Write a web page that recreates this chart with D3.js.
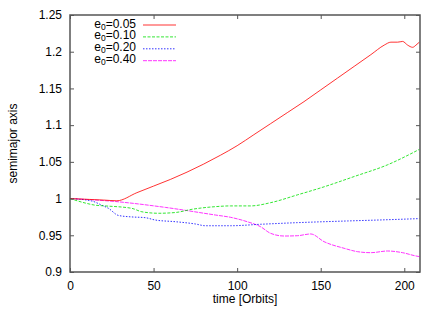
<!DOCTYPE html>
<html>
<head>
<meta charset="utf-8">
<script src="https://cdn.jsdelivr.net/npm/d3@7"></script>
<style>
  body { margin: 0; background: #fff; }
  svg { display: block; font-family: "Liberation Sans", Arial, sans-serif; }
</style>
</head>
<body>
<div id="chartContainer"></div>
<script>
// Data: time in orbits, semimajor axis.
const timeRed = [0, 10, 20, 28, 40, 50, 60, 70, 80, 90, 100, 110, 120, 130, 140, 150, 160, 170, 180, 188, 192, 196, 199, 202, 205, 207, 209];
const aRed = [1.0, 0.999, 0.998, 0.997, 1.008, 1.017, 1.026, 1.036, 1.047, 1.059, 1.072, 1.087, 1.102, 1.117, 1.132, 1.148, 1.164, 1.180, 1.196, 1.209, 1.213, 1.213, 1.214, 1.209, 1.206, 1.209, 1.213];

const timeGreen = [0, 9, 15, 21, 37, 43, 53, 63, 73, 87, 96, 108, 120, 136, 152, 170, 190, 209];
const aGreen = [1.0, 0.994, 0.991, 0.990, 0.9867, 0.982, 0.980, 0.981, 0.9854, 0.989, 0.990, 0.990, 0.9944, 1.005, 1.016, 1.030, 1.046, 1.067];

const timeBlue = [0, 13, 19, 23, 29, 37, 45, 51, 63, 75, 81, 96, 114, 136, 166, 186, 209];
const aBlue = [1.0, 0.9967, 0.991, 0.9867, 0.977, 0.975, 0.974, 0.9708, 0.9685, 0.9654, 0.963, 0.963, 0.965, 0.9672, 0.9695, 0.9709, 0.9727];

const timeMagenta = [0, 27, 57, 87, 96, 106, 114, 120, 128, 136, 144, 152, 164, 172, 180, 190, 199, 207, 209];
const aMagenta = [1.0, 0.996, 0.988, 0.9776, 0.9745, 0.9685, 0.9617, 0.9527, 0.949, 0.9494, 0.9518, 0.9413, 0.9323, 0.9277, 0.9263, 0.9286, 0.9263, 0.9218, 0.921];

const seriesNames = ["e0=0.05", "e0=0.10", "e0=0.20", "e0=0.40"];
const xTicks = [0, 50, 100, 150, 200];
const yTicks = [0.9, 0.95, 1, 1.05, 1.1, 1.15, 1.2, 1.25];

function createChart() {
    // Dimensions
    const width = 442, height = 309;
    const margin = {left: 70, right: 22, top: 15, bottom: 37};

    const x = d3.scaleLinear().domain([0, 209.4]).range([margin.left, width - margin.right]);
    const y = d3.scaleLinear().domain([0.9, 1.25]).range([height - margin.bottom, margin.top]);

    const svg = d3.create("svg")
        .attr("width", width)
        .attr("height", height)
        .attr("viewBox", `0 0 ${width} ${height}`);

    const series = [
        {name: seriesNames[0], t: timeRed, a: aRed, color: "#ff0000", dash: null},
        {name: seriesNames[1], t: timeGreen, a: aGreen, color: "#00e000", dash: "3,1.5"},
        {name: seriesNames[2], t: timeBlue, a: aBlue, color: "#0000ff", dash: "1.5,1.5"},
        {name: seriesNames[3], t: timeMagenta, a: aMagenta, color: "#ff00ff", dash: "4,1"}
    ];

    const line = d3.line()
        .x(d => x(d[0]))
        .y(d => y(d[1]))
        .curve(d3.curveMonotoneX);

    svg.append("defs").append("clipPath").attr("id", "clip")
        .append("rect")
        .attr("x", margin.left).attr("y", margin.top)
        .attr("width", width - margin.left - margin.right)
        .attr("height", height - margin.top - margin.bottom);

    // Curves
    svg.append("g")
        .attr("clip-path", "url(#clip)")
        .selectAll("path")
        .data(series.slice().reverse())
        .join("path")
        .attr("fill", "none")
        .attr("stroke", d => d.color)
        .attr("stroke-width", 1)
        .attr("stroke-opacity", 0.8)
        .attr("stroke-dasharray", d => d.dash)
        .attr("d", d => line(d.t.map((t, i) => [t, d.a[i]])));

    // Axes with inward ticks on all four sides
    const axisColor = "#555";
    const fmt = d => String(+d.toFixed(2));

    const left = svg.append("g")
        .attr("transform", `translate(${margin.left},0)`)
        .call(d3.axisLeft(y).tickValues(yTicks).tickSizeInner(-4).tickSizeOuter(0).tickPadding(8).tickFormat(fmt));
    const right = svg.append("g")
        .attr("transform", `translate(${width - margin.right},0)`)
        .call(d3.axisRight(y).tickValues(yTicks).tickSizeInner(-4).tickSizeOuter(0).tickFormat(""));
    const bottom = svg.append("g")
        .attr("transform", `translate(0,${height - margin.bottom})`)
        .call(d3.axisBottom(x).tickValues(xTicks).tickSizeInner(-4).tickSizeOuter(0).tickPadding(9).tickFormat(d3.format("d")));
    const top = svg.append("g")
        .attr("transform", `translate(0,${margin.top})`)
        .call(d3.axisTop(x).tickValues(xTicks).tickSizeInner(-4).tickSizeOuter(0).tickFormat(""));

    [left, right, bottom, top].forEach(g => {
        g.select(".domain").remove();
        g.selectAll("line").attr("stroke", axisColor).attr("stroke-width", 1);
        g.selectAll("text").attr("fill", "#000").style("font-size", "12px")
            .style("font-family", "'Liberation Sans', Arial, sans-serif");
    });

    // Border frame
    svg.append("rect")
        .attr("x", margin.left).attr("y", margin.top)
        .attr("width", width - margin.left - margin.right)
        .attr("height", height - margin.top - margin.bottom)
        .attr("fill", "none")
        .attr("stroke", axisColor)
        .attr("stroke-width", 1.5);

    // Axis titles
    svg.append("text")
        .attr("x", (margin.left + width - margin.right) / 2)
        .attr("y", 303)
        .attr("text-anchor", "middle")
        .style("font-size", "12px")
        .text("time [Orbits]");

    svg.append("text")
        .attr("transform", `translate(17,${(margin.top + height - margin.bottom) / 2}) rotate(-90)`)
        .attr("text-anchor", "middle")
        .style("font-size", "12px")
        .text("semimajor axis");

    // Legend
    const legend = svg.append("g")
        .selectAll("g")
        .data(series)
        .join("g")
        .attr("transform", (d, i) => `translate(0,${25 + i * 11.9})`);

    const label = legend.append("text")
        .attr("x", 136)
        .attr("y", 2.5)
        .attr("text-anchor", "end")
        .style("font-size", "12px");
    label.append("tspan").text("e");
    label.append("tspan").attr("dy", 2).style("font-size", "8.5px").text("0");
    label.append("tspan").attr("dy", -2).text(d => d.name.slice(2));

    legend.append("line")
        .attr("x1", 143).attr("x2", 176)
        .attr("y1", 0).attr("y2", 0)
        .attr("stroke", d => d.color)
        .attr("stroke-width", 1)
        .attr("stroke-opacity", 0.8)
        .attr("stroke-dasharray", d => d.dash);

    return svg.node();
}

document.getElementById("chartContainer").appendChild(createChart());
</script>
</body>
</html>
